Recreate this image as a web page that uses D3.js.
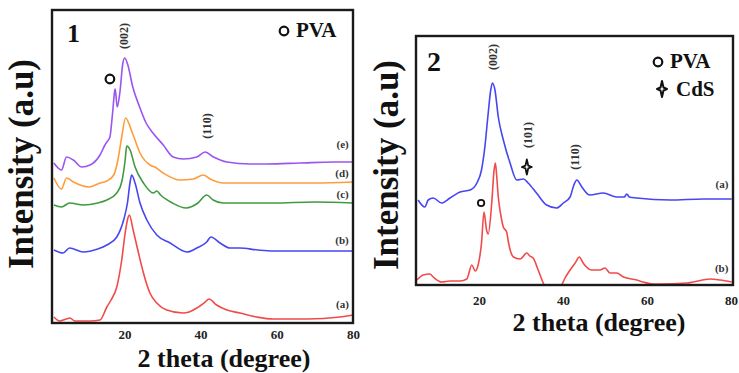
<!DOCTYPE html>
<html>
<head>
<meta charset="utf-8">
<script src="https://cdn.jsdelivr.net/npm/d3@7"></script>
<style>
  html, body { margin: 0; padding: 0; background: #fff; }
  svg { display: block; }
</style>
</head>
<body>
<svg id="chart" width="739" height="373"></svg>
<script>
// ---------- Panel 1 data (2theta in degrees, intensity a.u., stacked) ----------
const p1TickValues = [20, 40, 60, 80];
const p1CurveNames = ["(a)", "(b)", "(c)", "(d)", "(e)"];
const p1Colors = ["#f24a4a", "#4646f2", "#3f9a40", "#ff9c3c", "#9a55f0"];

const p1a = [[1.5,6],[3,2],[4.8,4],[5.7,5],[7,2],[11,2],[13.6,3],[15.4,16],[16.5,23],[18,36],[19.3,63],[20.2,90],[21,106],[21.3,108],[22.3,93],[23.7,70],[25,50],[26.7,30],[28.5,20],[31.1,13],[35.4,10],[37,11],[39,15],[41.2,21],[42.2,24],[44.2,18],[46.9,13],[50.3,10],[54.7,6],[59,4],[67.9,4],[76.6,6],[80,8]];
const p1b = [[1.5,73],[3.9,70],[5.6,75],[9.2,71],[13,74],[15.4,78],[18,86],[19.8,103],[20.8,120],[21.5,141],[21.9,148],[22.8,140],[24.1,120],[25.9,103],[28.5,88],[32,80],[36.4,71],[39,75],[41.6,81],[42.7,86],[45.1,80],[47.7,75],[50.3,75],[55,73],[59,72],[70,72],[80,72]];
const p1c = [[1.5,118],[3.5,116],[5.6,120],[9.2,118],[13,120],[15.4,123],[18,130],[19.3,141],[20.2,163],[20.6,177],[21.5,173],[22.8,156],[25,140],[27.6,130],[28.5,132],[29.5,128],[32.6,120],[36.2,115],[39.3,120],[41.6,128],[43.3,123],[45.9,120],[50.3,120],[59,120],[70,121],[80,120]];
const p1d = [[1.5,145],[3.5,134],[4.8,145],[6.6,141],[10.7,136],[13.6,140],[15.4,142],[17.2,148],[18.3,163],[19.3,186],[20.3,205],[22.1,190],[24.1,170],[26.7,158],[28,156],[30.2,150],[34.6,143],[38.1,144],[40.7,148],[42.5,144],[46,140],[50.3,140],[59,140],[70,140],[80,141]];
const p1e = [[1.5,160],[3.5,153],[4.8,166],[6.6,163],[8.8,156],[11,158],[13.6,168],[14.9,178],[15.4,181],[16.2,186],[16.9,210],[17.5,233],[17.6,234],[18.1,216],[18.8,230],[19.6,260],[20.1,265],[20.9,258],[22.2,236],[24,216],[25.7,200],[27.5,190],[30.2,178],[32.8,166],[35.5,164],[39,166],[41.2,171],[43.4,166],[46.9,161],[53,159],[57.4,159],[66.1,160],[74.8,161],[80,161]];
const p1Series = [p1a, p1b, p1c, p1d, p1e];
const p1LabelY = [19, 83, 129, 150, 179];

// ---------- Panel 2 data ----------
const p2TickValues = [20, 40, 60, 80];
const p2CurveNames = ["(a)", "(b)"];
const p2Colors = ["#4646f2", "#f24a4a"];
const p2a = [[5.5,85],[7.1,78],[7.9,85],[9.1,87],[11.1,82],[13.1,87],[15.5,93],[17.9,95],[19.5,102],[20.6,115],[21.4,138],[22.2,172],[22.8,195],[23.2,202],[23.8,195],[24.6,168],[25.8,145],[27.4,122],[29,105],[30.6,106],[31.7,102],[33.7,92],[36.1,80],[38.5,77],[40.1,82],[41.7,88],[42.6,100],[43.3,105],[44.5,98],[46.4,90],[49.6,92],[52.8,88],[54.6,88],[55.2,91],[55.8,88],[57.6,87],[65.5,85],[73.4,86],[80.2,86]];
const p2b = [[5.2,5],[6.7,10],[8.3,11],[9.1,8],[11.1,3],[13.1,4],[15.5,4],[17.1,6],[18.3,20],[19.1,14],[19.8,20],[20.6,42],[21.2,73],[21.8,55],[22.2,51],[23,80],[23.6,115],[23.9,122],[24.2,110],[24.6,88],[25.2,70],[25.8,58],[26.6,53],[27,43],[28.2,28],[29.8,26],[31.4,32],[32.1,29],[32.9,27],[34.1,15],[35.3,2],[36.4,-7],[38.1,-10],[39.7,0],[40.5,7],[41.7,15],[42.9,22],[43.9,28],[44.8,22],[45.6,18],[46.8,15],[48.8,15],[50,17],[51.2,12],[52.8,12],[54.4,8],[57.6,5],[59.1,3],[61.5,1],[63.1,1],[69.5,2],[71,3],[75,6],[77.4,5],[80.2,3]];
const p2Series = [p2a, p2b];
const p2LabelY = [101, 17];

// ---------- Annotations ----------
const p1Peaks = [{t: "(002)", x: 19.9, y: 287}, {t: "(110)", x: 41.7, y: 197}];
const p2Peaks = [{t: "(002)", x: 23.3, y: 228}, {t: "(101)", x: 31.7, y: 150}, {t: "(110)", x: 42.9, y: 128}];
const p1PvaMark = {x: 16.2, y: 244};
const p2PvaMark = {x: 20.5, y: 82};
const p2CdsMark = {x: 31.4, y: 118};

const SERIF = "'Liberation Serif', 'Times New Roman', Times, 'DejaVu Serif', serif";
const svg = d3.select("#chart");

function txt(sel, size) {
  return sel.style("font-family", SERIF).style("font-weight", "bold").style("font-size", size + "px").attr("fill", "#111");
}

function starPath(cx, cy, hw, hh, c) {
  return `M${cx},${cy-hh} L${cx+c},${cy-c} L${cx+hw},${cy} L${cx+c},${cy+c} L${cx},${cy+hh} L${cx-c},${cy+c} L${cx-hw},${cy} L${cx-c},${cy-c} Z`;
}

function panel(cfg) {
  const g = svg.append("g");
  const x = d3.scaleLinear().domain(cfg.xDomain).range([cfg.left, cfg.right]);
  const y = d3.scaleLinear().domain(cfg.yDomain).range([cfg.bottom, cfg.top]);
  const clipId = "clip" + cfg.id;
  svg.append("clipPath").attr("id", clipId).append("rect")
    .attr("x", cfg.left).attr("y", cfg.top).attr("width", cfg.right - cfg.left).attr("height", cfg.bottom - cfg.top);

  const line = d3.line().x(d => x(d[0])).y(d => y(d[1])).curve(d3.curveMonotoneX);
  g.append("g").attr("clip-path", `url(#${clipId})`)
    .selectAll("path").data(cfg.series).join("path")
    .attr("d", line).attr("fill", "none")
    .attr("stroke", (d, i) => cfg.colors[i]).attr("stroke-width", 1.6)
    .attr("stroke-linejoin", "round");

  // frame
  g.append("rect").attr("x", cfg.left).attr("y", cfg.top)
    .attr("width", cfg.right - cfg.left).attr("height", cfg.bottom - cfg.top)
    .attr("fill", "none").attr("stroke", "#1a1a1a").attr("stroke-width", 2.4);

  // x axis labels
  const ax = g.append("g").attr("transform", `translate(0,${cfg.bottom})`)
    .call(d3.axisBottom(x).tickValues(cfg.ticks).tickSize(0).tickPadding(cfg.tickPad).tickFormat(d3.format("d")));
  ax.select(".domain").remove();
  txt(ax.selectAll("text"), 13).attr("fill", "#222");

  // axis titles
  txt(g.append("text"), 26).attr("x", cfg.xTitleX).attr("y", cfg.xTitleY).attr("text-anchor", "middle")
    .text("2 theta (degree)");
  txt(g.append("text"), 35).attr("transform", `translate(${cfg.yTitleX},${cfg.yTitleY}) rotate(-90)`)
    .attr("text-anchor", "middle").text("Intensity (a.u)");

  // panel number
  txt(g.append("text"), cfg.numSize).attr("x", cfg.numX).attr("y", cfg.numY).text(cfg.num);

  // curve labels
  txt(g.selectAll(".clab").data(cfg.names).join("text"), 11)
    .attr("x", x(cfg.labelX)).attr("y", (d, i) => y(cfg.labelY[i]))
    .attr("text-anchor", "end").attr("dominant-baseline", "central")
    .attr("fill", "#333").text(d => d);

  // peak annotations
  txt(g.selectAll(".peak").data(cfg.peaks).join("text"), 12)
    .attr("transform", d => `translate(${x(d.x)},${y(d.y)}) rotate(-90)`)
    .attr("text-anchor", "middle").attr("dominant-baseline", "central")
    .attr("fill", "#333").text(d => d.t);

  return {g, x, y};
}

const P1 = panel({
  id: 1, xDomain: [1, 80], yDomain: [0, 313], left: 52, right: 353, top: 10, bottom: 323,
  series: p1Series, colors: p1Colors, ticks: p1TickValues, tickPad: 7,
  xTitleX: 224, xTitleY: 367, yTitleX: 33, yTitleY: 164,
  num: "1", numX: 67, numY: 42, numSize: 26,
  names: p1CurveNames, labelX: 78.9, labelY: p1LabelY, peaks: p1Peaks
});
const P2 = panel({
  id: 2, xDomain: [5, 80.5], yDomain: [0, 249], left: 416, right: 733, top: 36, bottom: 285,
  series: p2Series, colors: p2Colors, ticks: p2TickValues, tickPad: 11,
  xTitleX: 599, xTitleY: 331, yTitleX: 398, yTitleY: 165,
  num: "2", numX: 427, numY: 71, numSize: 28,
  names: p2CurveNames, labelX: 79.4, labelY: p2LabelY, peaks: p2Peaks
});

// markers on curves
P1.g.append("circle").attr("cx", P1.x(p1PvaMark.x)).attr("cy", P1.y(p1PvaMark.y)).attr("r", 4.3)
  .attr("fill", "none").attr("stroke", "#111").attr("stroke-width", 2.2);
P2.g.append("circle").attr("cx", P2.x(p2PvaMark.x)).attr("cy", P2.y(p2PvaMark.y)).attr("r", 3.2)
  .attr("fill", "none").attr("stroke", "#111").attr("stroke-width", 1.8);
P2.g.append("path").attr("d", starPath(P2.x(p2CdsMark.x), P2.y(p2CdsMark.y), 5, 7.5, 1.4))
  .attr("fill", "#fff").attr("stroke", "#111").attr("stroke-width", 1.8).attr("stroke-linejoin", "round");

// legends
P1.g.append("circle").attr("cx", 284).attr("cy", 31).attr("r", 4.3)
  .attr("fill", "none").attr("stroke", "#111").attr("stroke-width", 2.2);
txt(P1.g.append("text"), 21).attr("x", 296).attr("y", 37).text("PVA");

P2.g.append("circle").attr("cx", 658).attr("cy", 62).attr("r", 4.3)
  .attr("fill", "none").attr("stroke", "#111").attr("stroke-width", 2.2);
txt(P2.g.append("text"), 21).attr("x", 670).attr("y", 68).text("PVA");
P2.g.append("path").attr("d", starPath(662, 89, 5, 8, 1.5))
  .attr("fill", "#fff").attr("stroke", "#111").attr("stroke-width", 2).attr("stroke-linejoin", "round");
txt(P2.g.append("text"), 21).attr("x", 676).attr("y", 96).text("CdS");
</script>
</body>
</html>
